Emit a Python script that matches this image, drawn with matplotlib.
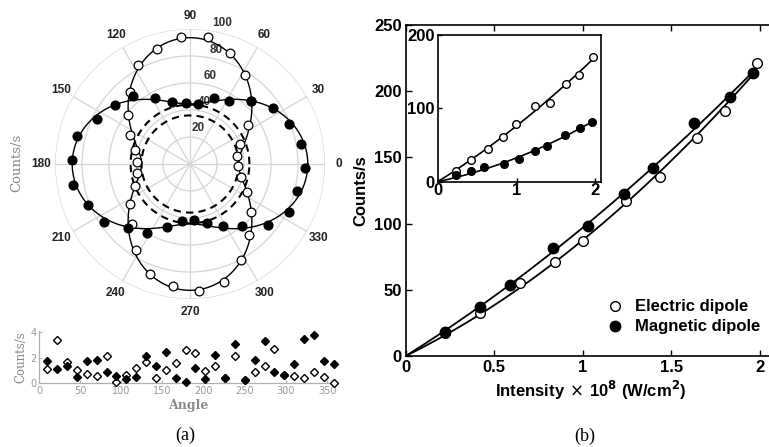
import numpy as np
import matplotlib
matplotlib.use('Agg')
import matplotlib.pyplot as plt

# ---- data (a): polar emission pattern ----
angles = [10, 22, 34, 46, 58, 70, 82, 94, 106, 118, 130, 142, 154, 166, 178,
          190, 202, 214, 226, 238, 250, 262, 274, 286, 298, 310, 322, 334, 346, 358]
electric_r = [35.5, 39.6, 51.8, 65.0, 77.5, 87.4, 94.7, 94.0, 88.6, 82.8, 69.4, 58.6, 49.4, 42.0, 39.5,
              40.0, 44.0, 53.4, 61.6, 75.1, 87.1, 91.1, 94.0, 91.0, 80.6, 68.4, 57.2, 47.0, 39.0, 35.3]
magnetic_r = [83.5, 78.8, 74.2, 65.0, 55.0, 51.7, 45.0, 45.6, 47.4, 55.5, 65.5, 70.5, 76.5, 86.0, 87.7,
              88.1, 81.6, 77.0, 66.0, 60.2, 49.5, 43.0, 41.5, 45.6, 52.4, 59.8, 73.4, 81.8, 81.5, 85.2]
dashed_r = [36, 44]
r_ticks = [20, 40, 60, 80, 100]
theta_labels = [0, 30, 60, 90, 120, 150, 180, 210, 240, 270, 300, 330]

# residuals below the polar plot
electric_res = [1.10, 3.36, 1.66, 1.02, 0.69, 0.56, 2.11, 0.08, 0.64, 1.22, 1.66, 0.43, 1.02, 1.60, 2.62,
                2.37, 0.94, 1.35, 0.43, 2.11, 0.20, 0.89, 1.35, 2.68, 0.64, 0.59, 0.38, 0.89, 0.51, 0.0]
magnetic_res = [1.71, 1.10, 1.35, 0.51, 1.71, 1.83, 0.89, 0.59, 0.33, 0.51, 2.11, 1.35, 2.47, 0.43, 0.08,
                1.22, 0.33, 2.17, 0.43, 3.06, 0.20, 1.78, 3.31, 0.84, 0.64, 1.53, 3.44, 3.82, 1.71, 1.53]

# ---- data (b): counts vs intensity ----
main_x_el = [0.22, 0.42, 0.646, 0.844, 1.004, 1.245, 1.437, 1.648, 1.804, 1.983]
main_y_el = [17.0, 32.7, 55.4, 71.2, 87.1, 117.3, 135.4, 164.9, 185.3, 221.6]
main_x_mag = [0.222, 0.42, 0.589, 0.834, 1.032, 1.234, 1.395, 1.629, 1.832, 1.964]
main_y_mag = [18.4, 36.8, 53.6, 81.3, 98.4, 122.4, 141.7, 175.7, 195.9, 214.0]

ins_x_el = [0.233, 0.424, 0.636, 0.822, 0.996, 1.237, 1.419, 1.631, 1.788, 1.97]
ins_y_el = [15.0, 29.5, 44.1, 61.4, 78.6, 103.2, 107.7, 132.7, 145.5, 170.5]
ins_x_mag = [0.233, 0.424, 0.593, 0.835, 1.025, 1.229, 1.386, 1.619, 1.809, 1.958]
ins_y_mag = [9.1, 14.5, 19.5, 24.1, 30.5, 42.3, 48.6, 63.6, 73.6, 81.8]


def fit_polar(ang, r):
    t = np.radians(ang)
    A = np.column_stack([np.ones_like(t), np.cos(t) ** 2])
    c = np.linalg.lstsq(A, np.array(r), rcond=None)[0]
    tt = np.linspace(0, 2 * np.pi, 400)
    return tt, c[0] + c[1] * np.cos(tt) ** 2


def fit_quad(x, y, xmax):
    x = np.array(x)
    A = np.column_stack([x, x ** 2])
    c = np.linalg.lstsq(A, np.array(y), rcond=None)[0]
    xx = np.linspace(0, xmax, 200)
    return xx, c[0] * xx + c[1] * xx ** 2


W, H = 769, 447
fig = plt.figure(figsize=(W / 100, H / 100), dpi=100)

grid_c = '#d6d6d6'
lab_font = ['Liberation Sans', 'DejaVu Sans']

# ---------- polar ----------
axp = fig.add_axes([55 / W, 1 - 299 / H, 270 / W, 270 / H], projection='polar')
axp.set_ylim(0, 100)
axp.set_yticks(r_ticks)
axp.set_xticks(np.radians(theta_labels))
axp.set_xticklabels([])
axp.set_yticklabels([])
axp.grid(True, color=grid_c, lw=0.9)
axp.spines['polar'].set_visible(False)
axp.tick_params(length=0)

th = np.linspace(0, 2 * np.pi, 300)
for rd in dashed_r:
    axp.plot(th, np.full_like(th, rd), color='black', ls=(0, (3.5, 2.5)), lw=1.5, zorder=2)

for a in theta_labels:
    axp.text(np.radians(a), 110, str(a), ha='center', va='center', fontsize=8.5,
             fontweight='bold', color='#222222', family=lab_font, clip_on=False)
for rv in r_ticks:
    axp.text(np.radians(77), rv + 7, str(rv), ha='center', va='center', fontsize=8.5,
             fontweight='bold', color='#333333', family=lab_font, clip_on=False, zorder=1)

tt, rr = fit_polar(angles, electric_r)
axp.plot(tt, rr, color='black', lw=1.0, zorder=3)
tt, rr = fit_polar(angles, magnetic_r)
axp.plot(tt, rr, color='black', lw=1.0, zorder=3)
axp.plot(np.radians(angles), electric_r, 'o', mfc='white', mec='black', ms=6.3, mew=0.9, zorder=4)
axp.plot(np.radians(angles), magnetic_r, 'o', mfc='black', mec='black', ms=6.3, zorder=5)

fig.text(17 / W, 1 - 163 / H, 'Counts/s', rotation=90, ha='center', va='center',
         fontsize=9.5, color='#888888', family='DejaVu Serif')

# ---------- residual strip ----------
axr = fig.add_axes([39 / W, 1 - 383 / H, 298 / W, 52 / H])
axr.plot(angles, electric_res, 'D', mfc='white', mec='black', ms=4, mew=1.0, clip_on=False, zorder=3)
axr.plot(angles, magnetic_res, 'D', mfc='black', mec='black', ms=4, clip_on=False, zorder=4)
axr.set_xlim(0, 362)
axr.set_ylim(0, 4.1)
axr.set_xticks([0, 50, 100, 150, 200, 250, 300, 350])
axr.set_yticks([0, 2, 4])
for s in ['top', 'right']:
    axr.spines[s].set_visible(False)
for s in ['left', 'bottom']:
    axr.spines[s].set_color('#b0b0b0')
    axr.spines[s].set_linewidth(0.9)
axr.tick_params(direction='in', length=2.5, color='#b0b0b0', labelcolor='#999999',
                labelsize=7, pad=2)
axr.set_xlabel('Angle', fontsize=9, fontweight='bold', color='#888888',
               family='DejaVu Serif', labelpad=2)
axr.set_ylabel('Counts/s', fontsize=8.5, color='#888888', family='DejaVu Serif', labelpad=2)

fig.text(185 / W, 1 - 435 / H, '(a)', ha='center', va='center', fontsize=13,
         family='Liberation Serif')

# ---------- main panel (b) ----------
x_px0 = 405.7
px_per = 177.0
axm = fig.add_axes([x_px0 / W, 1 - 356 / H, (2.09 * px_per) / W, 331 / H])
xx, yy = fit_quad(main_x_el, main_y_el, 1.98)
axm.plot(xx, yy, color='black', lw=1.3)
xx, yy = fit_quad(main_x_mag, main_y_mag, 1.98)
axm.plot(xx, yy, color='black', lw=1.3)
axm.plot(main_x_el, main_y_el, 'o', mfc='white', mec='black', ms=7, mew=1.0, label='Electric dipole')
axm.plot(main_x_mag, main_y_mag, 'o', mfc='black', mec='black', ms=7.5, label='Magnetic dipole')
axm.set_xlim(0, 2.09)
axm.set_ylim(0, 250)
axm.set_xticks([0, 0.5, 1, 1.5, 2])
axm.set_xticklabels(['0', '0.5', '1', '1.5', '2'])
axm.set_yticks([0, 50, 100, 150, 200, 250])
axm.tick_params(direction='in', length=4, width=1, top=True, right=True, labelsize=12, pad=3)
for lb in axm.get_xticklabels() + axm.get_yticklabels():
    lb.set_fontweight('bold')
    lb.set_family(lab_font)
for s in axm.spines.values():
    s.set_linewidth(1.2)
axm.set_xlabel(r'Intensity$\,\times\,$10$^{\mathbf{8}}$ (W/cm$^{\mathbf{2}}$)', fontsize=12,
               fontweight='bold', family=lab_font, labelpad=3)
axm.set_ylabel('Counts/s', fontsize=12, fontweight='bold', family=lab_font, labelpad=4)
leg = axm.legend(loc='lower right', bbox_to_anchor=(1.0, 0.02), frameon=False,
                 prop={'size': 12, 'weight': 'bold', 'family': lab_font},
                 handletextpad=0.6, labelspacing=0.3, handlelength=1.2)

# ---------- inset ----------
axi = fig.add_axes([437.7 / W, 1 - 181.7 / H, (601 - 437.7) / W, (181.7 - 35) / H])
xx, yy = fit_quad(ins_x_el, ins_y_el, 1.97)
axi.plot(xx, yy, color='black', lw=1.2)
xx, yy = fit_quad(ins_x_mag, ins_y_mag, 1.97)
axi.plot(xx, yy, color='black', lw=1.2)
axi.plot(ins_x_el, ins_y_el, 'o', mfc='white', mec='black', ms=5.5, mew=1.0)
axi.plot(ins_x_mag, ins_y_mag, 'o', mfc='black', mec='black', ms=5.5)
axi.set_xlim(0, 2.07)
axi.set_ylim(0, 200)
axi.set_xticks([0, 1, 2])
axi.set_yticks([0, 100, 200])
axi.tick_params(direction='in', length=3, width=1, labelsize=12)
axi.tick_params(axis='x', pad=1)
axi.tick_params(axis='y', pad=2)
for lb in axi.get_xticklabels() + axi.get_yticklabels():
    lb.set_fontweight('bold')
    lb.set_family(lab_font)
for s in axi.spines.values():
    s.set_linewidth(1.2)

fig.text(585 / W, 1 - 436 / H, '(b)', ha='center', va='center', fontsize=13,
         family='Liberation Serif')

fig.savefig('out.png', dpi=100)
